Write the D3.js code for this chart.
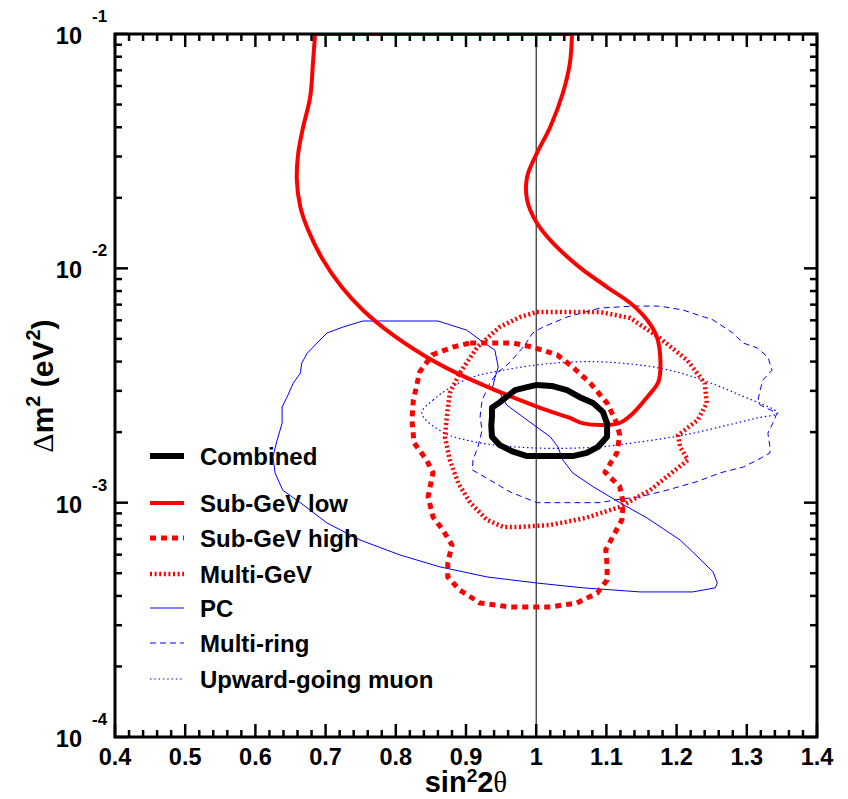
<!DOCTYPE html>
<html><head><meta charset="utf-8">
<script src="https://cdn.jsdelivr.net/npm/d3@7"></script>
<style>body{margin:0;background:#fff}svg{display:block}</style>
</head><body>
<svg id="c" width="848" height="799"></svg>
<script>
// ---- data: [sin^2 2theta, delta m^2 (eV^2)] ----
const combined = [[0.970,3.02e-3],[0.987,3.11e-3],[1.001,3.18e-3],[1.022,3.15e-3],[1.044,3.02e-3],[1.062,2.82e-3],[1.081,2.66e-3],[1.095,2.44e-3],[1.101,2.18e-3],[1.101,1.91e-3],[1.088,1.73e-3],[1.072,1.63e-3],[1.052,1.58e-3],[1.024,1.58e-3],[1.001,1.58e-3],[0.987,1.58e-3],[0.967,1.65e-3],[0.948,1.76e-3],[0.937,1.91e-3],[0.936,2.14e-3],[0.937,2.32e-3],[0.937,2.54e-3],[0.948,2.68e-3]];
const subGeVLow = [[0.685,0.1],[0.682,0.0752],[0.678,0.0538],[0.668,0.0401],[0.661,0.0310],[0.659,0.0238],[0.664,0.0183],[0.675,0.0146],[0.696,0.0109],[0.723,8.32e-3],[0.753,6.64e-3],[0.792,5.30e-3],[0.839,4.27e-3],[0.887,3.57e-3],[0.934,3.09e-3],[0.977,2.74e-3],[1.015,2.48e-3],[1.048,2.30e-3],[1.067,2.18e-3],[1.117,2.18e-3],[1.138,2.41e-3],[1.158,2.82e-3],[1.174,3.27e-3],[1.177,3.94e-3],[1.172,5.09e-3],[1.158,6.02e-3],[1.134,7.11e-3],[1.101,8.32e-3],[1.062,0.0101],[1.024,0.0128],[1.001,0.0156],[0.987,0.0196],[0.987,0.0245],[1.001,0.0310],[1.020,0.0401],[1.038,0.0560],[1.048,0.0752],[1.051,0.1]];
const subGeVHigh = [[0.906,4.80e-3],[0.967,4.80e-3],[0.995,4.61e-3],[1.030,4.27e-3],[1.052,3.79e-3],[1.077,3.24e-3],[1.101,2.66e-3],[1.115,2.18e-3],[1.119,1.94e-3],[1.115,1.63e-3],[1.098,1.35e-3],[1.119,1.17e-3],[1.124,1.0e-3],[1.122,8.44e-4],[1.109,7.14e-4],[1.099,6.28e-4],[1.101,5.42e-4],[1.101,4.68e-4],[1.087,4.12e-4],[1.058,3.73e-4],[1.020,3.59e-4],[0.963,3.59e-4],[0.920,3.73e-4],[0.891,4.24e-4],[0.874,4.82e-4],[0.874,5.53e-4],[0.880,6.60e-4],[0.867,7.65e-4],[0.853,8.69e-4],[0.846,1.06e-3],[0.853,1.34e-3],[0.844,1.52e-3],[0.826,1.80e-3],[0.823,2.25e-3],[0.825,2.74e-3],[0.834,3.61e-3],[0.852,4.27e-3],[0.881,4.61e-3]];
const multiGeV = [[1.001,6.51e-3],[1.091,6.51e-3],[1.134,6.14e-3],[1.176,5.04e-3],[1.215,4.06e-3],[1.240,3.24e-3],[1.243,2.66e-3],[1.230,2.25e-3],[1.202,1.94e-3],[1.205,1.73e-3],[1.216,1.52e-3],[1.186,1.29e-3],[1.162,1.13e-3],[1.119,9.58e-4],[1.070,8.60e-4],[1.020,8.03e-4],[0.977,7.88e-4],[0.953,7.88e-4],[0.930,8.44e-4],[0.906,1.0e-3],[0.889,1.21e-3],[0.877,1.52e-3],[0.870,1.91e-3],[0.873,2.37e-3],[0.877,2.94e-3],[0.891,3.57e-3],[0.916,4.61e-3],[0.948,5.62e-3],[0.977,6.20e-3]];
const pc = [[0.753,5.96e-3],[0.860,5.96e-3],[0.901,5.45e-3],[0.924,4.85e-3],[0.941,4.48e-3],[0.946,3.79e-3],[0.941,3.40e-3],[0.938,3.11e-3],[0.948,2.94e-3],[0.958,2.61e-3],[0.977,2.37e-3],[1.001,2.10e-3],[1.020,1.91e-3],[1.031,1.73e-3],[1.038,1.52e-3],[1.052,1.34e-3],[1.081,1.17e-3],[1.119,1.0e-3],[1.158,8.60e-4],[1.205,6.93e-4],[1.223,6.16e-4],[1.252,5.06e-4],[1.258,4.54e-4],[1.255,4.33e-4],[1.223,4.16e-4],[1.148,4.16e-4],[1.067,4.33e-4],[1.001,4.54e-4],[0.930,4.82e-4],[0.863,5.32e-4],[0.806,5.98e-4],[0.749,6.93e-4],[0.702,8.19e-4],[0.664,1.0e-3],[0.639,1.13e-3],[0.628,1.34e-3],[0.625,1.57e-3],[0.631,1.85e-3],[0.638,2.18e-3],[0.638,2.56e-3],[0.645,2.82e-3],[0.654,3.24e-3],[0.664,3.57e-3],[0.666,3.94e-3],[0.674,4.35e-3],[0.688,4.80e-3],[0.702,5.30e-3],[0.725,5.62e-3]];
const multiRing = [[0.984,4.71e-3],[0.995,5.30e-3],[1.010,5.62e-3],[1.044,6.20e-3],[1.091,6.77e-3],[1.138,6.90e-3],[1.176,6.90e-3],[1.209,6.64e-3],[1.252,6.02e-3],[1.280,5.30e-3],[1.295,4.80e-3],[1.315,4.57e-3],[1.330,4.18e-3],[1.336,3.68e-3],[1.323,3.34e-3],[1.319,3.02e-3],[1.316,2.74e-3],[1.319,2.61e-3],[1.343,2.41e-3],[1.337,2.18e-3],[1.330,1.98e-3],[1.333,1.73e-3],[1.333,1.63e-3],[1.315,1.52e-3],[1.295,1.42e-3],[1.262,1.34e-3],[1.229,1.23e-3],[1.186,1.13e-3],[1.148,1.06e-3],[1.115,1.03e-3],[1.091,1.0e-3],[1.010,1.0e-3],[1.001,1.0e-3],[0.963,1.11e-3],[0.934,1.25e-3],[0.909,1.38e-3],[0.910,1.52e-3],[0.917,1.73e-3],[0.923,2.04e-3],[0.920,2.32e-3],[0.923,2.74e-3],[0.934,3.24e-3],[0.944,3.57e-3],[0.963,3.98e-3]];
const upMu = [[0.837,2.41e-3],[0.853,2.74e-3],[0.877,3.09e-3],[0.910,3.44e-3],[0.948,3.65e-3],[1.001,3.87e-3],[1.048,3.98e-3],[1.101,3.98e-3],[1.176,3.75e-3],[1.233,3.37e-3],[1.290,2.88e-3],[1.344,2.41e-3],[1.315,2.30e-3],[1.272,2.14e-3],[1.209,1.94e-3],[1.138,1.80e-3],[1.091,1.73e-3],[1.001,1.71e-3],[0.920,1.80e-3],[0.867,2.00e-3]];

const legendNames = ["Combined","Sub-GeV low","Sub-GeV high","Multi-GeV","PC","Multi-ring","Upward-going muon"];
const xTicks = [0.4,0.5,0.6,0.7,0.8,0.9,1,1.1,1.2,1.3,1.4];
const xTickLabels = ["0.4","0.5","0.6","0.7","0.8","0.9","1","1.1","1.2","1.3","1.4"];
const yDecades = [1e-4,1e-3,1e-2,1e-1];
const yExpLabels = ["-4","-3","-2","-1"];

// ---- layout ----
const L=115, R=817, T=34, B=737;
const svg = d3.select("#c");
const x = d3.scaleLinear().domain([0.4,1.4]).range([L,R]);
const y = d3.scaleLog().domain([1e-4,1e-1]).range([B,T]);
const FONT = "'Liberation Sans', Arial, Helvetica, sans-serif";

svg.append("defs").append("clipPath").attr("id","clip")
  .append("rect").attr("x",L).attr("y",T).attr("width",R-L).attr("height",B-T);

const g = svg.append("g").attr("clip-path","url(#clip)");

// vertical line at sin^2 2theta = 1
g.append("line").attr("x1",x(1)).attr("x2",x(1)).attr("y1",T).attr("y2",B)
  .attr("stroke","#000").attr("stroke-width",1);

const RED="#ff0000", BLUE="#0000ff";
const styles = [
  {data:combined, color:"#000", w:6, dash:null, curve:d3.curveLinearClosed},
  {data:subGeVLow, color:RED, w:4, dash:null, curve:d3.curveCatmullRom, closeStraight:true},
  {data:subGeVHigh, color:RED, w:5, dash:"6,5", curve:d3.curveLinearClosed},
  {data:multiGeV, color:RED, w:4.5, dash:"2,2.6", curve:d3.curveLinearClosed},
  {data:pc, color:BLUE, w:1, dash:null, curve:d3.curveLinearClosed},
  {data:multiRing, color:BLUE, w:1, dash:"6,4", curve:d3.curveLinearClosed},
  {data:upMu, color:BLUE, w:1.2, dash:"1.5,2.8", curve:d3.curveCatmullRomClosed}
];
const drawOrder = [4,5,6,3,2,1,0];
drawOrder.forEach(i=>{
  const s = styles[i];
  const line = d3.line().x(d=>x(d[0])).y(d=>y(d[1])).curve(s.curve);
  let p = line(s.data);
  if (s.closeStraight) p += "Z";
  g.append("path").attr("d",p).attr("fill","none")
    .attr("stroke",s.color).attr("stroke-width",s.w)
    .attr("stroke-dasharray",s.dash).attr("stroke-linejoin","round");
});

// ---- axes frame & ticks ----
const ax = svg.append("g").attr("stroke","#000").attr("stroke-width",2.5);
const xMinor = d3.range(0.4,1.4001,0.02);
xMinor.forEach(v=>{
  const isMajor = Math.abs(v*10-Math.round(v*10))<1e-6;
  const len = isMajor?13:7;
  ax.append("line").attr("x1",x(v)).attr("x2",x(v)).attr("y1",B).attr("y2",B-len);
  ax.append("line").attr("x1",x(v)).attr("x2",x(v)).attr("y1",T).attr("y2",T+len);
});
yDecades.forEach((d,i)=>{
  [L,R].forEach(ex=>{
    const dir = ex===L?1:-1;
    ax.append("line").attr("x1",ex).attr("x2",ex+dir*13).attr("y1",y(d)).attr("y2",y(d));
    if (i<yDecades.length-1){
      for(let k=2;k<=9;k++){
        ax.append("line").attr("x1",ex).attr("x2",ex+dir*7).attr("y1",y(d*k)).attr("y2",y(d*k));
      }
    }
  });
});
svg.append("rect").attr("x",L).attr("y",T).attr("width",R-L).attr("height",B-T)
  .attr("fill","none").attr("stroke","#000").attr("stroke-width",3);

// x tick labels
svg.append("g").selectAll("text").data(xTicks).join("text")
  .attr("x",d=>x(d)).attr("y",765).attr("text-anchor","middle")
  .attr("font-family",FONT).attr("font-weight","bold").attr("font-size",23.5)
  .text((d,i)=>xTickLabels[i]);

// y tick labels 10^n
yDecades.forEach((d,i)=>{
  svg.append("text").attr("x",82).attr("y",y(d)+10).attr("text-anchor","end")
    .attr("font-family",FONT).attr("font-weight","bold").attr("font-size",23.5).text("10");
  svg.append("text").attr("x",92).attr("y",y(d)-12).attr("text-anchor","start")
    .attr("font-family",FONT).attr("font-weight","bold").attr("font-size",17).text(yExpLabels[i]);
});

// x axis title
const xt = svg.append("text").attr("x",(L+R)/2).attr("y",792).attr("text-anchor","middle")
  .attr("font-family",FONT).attr("font-weight","bold").attr("font-size",29);
xt.append("tspan").text("sin");
xt.append("tspan").attr("font-size",19).attr("dy",-10).text("2");
xt.append("tspan").attr("dy",10).text("2");
xt.append("tspan").attr("font-family","'Liberation Serif','DejaVu Serif',serif").attr("font-weight","normal").text("θ");

// y axis title
const yt = svg.append("text").attr("transform","translate(53,386) rotate(-90)").attr("text-anchor","middle")
  .attr("font-family",FONT).attr("font-weight","bold").attr("font-size",30);
yt.append("tspan").attr("font-family","'Liberation Serif','DejaVu Serif',serif").attr("font-weight","normal").text("Δ");
yt.append("tspan").text("m");
yt.append("tspan").attr("font-size",20).attr("dy",-13).text("2");
yt.append("tspan").attr("dy",13).text(" (eV");
yt.append("tspan").attr("font-size",20).attr("dy",-13).text("2");
yt.append("tspan").attr("dy",13).text(")");

// legend
const legY = [456,503,538,574,608,643,679];
const leg = svg.append("g");
legendNames.forEach((name,i)=>{
  const s = styles[i];
  leg.append("line").attr("x1",150).attr("x2",184).attr("y1",legY[i]).attr("y2",legY[i])
    .attr("stroke",s.color).attr("stroke-width",s.w).attr("stroke-dasharray",s.dash);
  leg.append("text").attr("x",200).attr("y",legY[i]+9)
    .attr("font-family",FONT).attr("font-weight","bold").attr("font-size",24).text(name);
});
</script>
</body></html>
